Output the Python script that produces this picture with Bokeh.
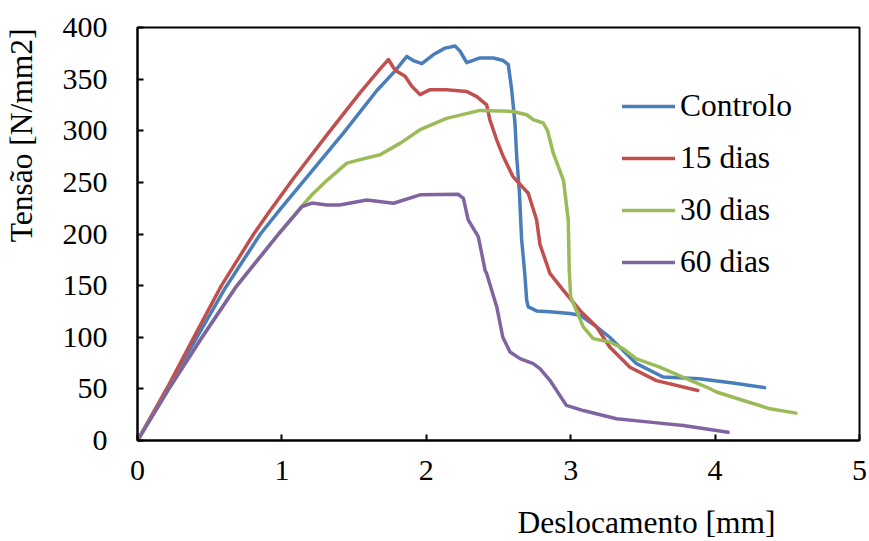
from bokeh.plotting import figure
from bokeh.models import Range1d, Legend, LegendItem, Title, FixedTicker
from bokeh.embed import file_html
from bokeh.resources import INLINE

# ---- data ----
controlo_x = [0, 0.217, 0.42, 0.609, 0.851, 0.989, 1.196, 1.427, 1.658, 1.784, 1.865, 1.91, 1.969, 2.05, 2.13,
              2.2, 2.234, 2.28, 2.372, 2.464, 2.533, 2.568, 2.591, 2.614, 2.626, 2.645, 2.66, 2.683, 2.695, 2.706,
              2.764, 2.856, 2.994, 3.064, 3.18, 3.27, 3.456, 3.64, 3.89, 4.124, 4.343]
controlo_y = [0, 52, 102, 148, 200, 224, 259, 298, 339, 358, 372, 368, 365, 373.8, 380,
              382, 377, 366, 370.5, 370.5, 368, 364, 340, 307.5, 275, 240, 195, 160, 136, 129.4,
              125.5, 124.6, 123, 121.4, 110, 100, 74.4, 61.5, 59.9, 55.6, 51.2]

d15_x = [0, 0.217, 0.413, 0.581, 0.805, 0.92, 1.081, 1.312, 1.542, 1.68, 1.738, 1.773, 1.796, 1.853, 1.90,
         1.957, 2.026, 2.14, 2.28, 2.35, 2.418, 2.44, 2.488, 2.533, 2.60, 2.706, 2.764, 2.787, 2.856, 2.948,
         3.064, 3.18, 3.27, 3.41, 3.594, 3.88]
d15_y = [0, 54, 106, 150, 200, 223, 254, 296, 337, 360, 369, 361, 357.6, 352.7, 343,
         335, 339.8, 339.8, 338, 333, 325, 310.7, 291, 275, 255.6, 239.5, 213.6, 190, 161.8, 145.6,
         126, 110, 90.6, 71, 58, 48.5]

d30_x = [0, 0.217, 0.447, 0.678, 0.977, 1.127, 1.208, 1.312, 1.45, 1.542, 1.68, 1.82, 1.957, 2.14, 2.372,
         2.60, 2.695, 2.74, 2.81, 2.84, 2.88, 2.95, 2.983, 2.99, 3.0, 3.087, 3.156, 3.27, 3.363, 3.456,
         3.617, 3.80, 3.94, 4.01, 4.19, 4.38, 4.56]
d30_y = [0, 50, 100, 148, 200, 225, 238, 252, 268.6, 272, 276.7, 288, 301, 312, 319.7,
         318.7, 315.5, 310.7, 307.5, 300, 278, 252, 213.6, 165, 139, 110, 98.7, 95.4, 89, 79,
         71, 60, 51.8, 47, 39, 30.7, 26.5]

d60_x = [0, 0.217, 0.447, 0.678, 0.977, 1.139, 1.208, 1.312, 1.40, 1.588, 1.773, 1.957, 2.22, 2.257, 2.29,
         2.36, 2.407, 2.418, 2.488, 2.53, 2.58, 2.649, 2.74, 2.787, 2.856, 2.97, 3.087, 3.317, 3.548, 3.78, 4.09]
d60_y = [0, 50, 100, 148, 200, 226.5, 230, 228, 228, 233, 229.8, 237.9, 238.5, 234.6, 213.6,
         197.4, 165, 161.8, 129.4, 100, 85.7, 79.3, 74.4, 69.6, 58.3, 34, 29, 21, 17.8, 14.6, 8]

series_names = ["Controlo", "15 dias", "30 dias", "60 dias"]
series_colors = ["#4A7EBB", "#C0504D", "#9BBB59", "#8064A2"]
x_ticks = [0, 1, 2, 3, 4, 5]
y_ticks = [0, 50, 100, 150, 200, 250, 300, 350, 400]
x_title = "Deslocamento [mm]"
y_title = "Tensão [N/mm2]"

TICK_FONT = "Times"
TITLE_FONT = "Liberation Serif"

p = figure(width=869, height=541, output_backend="svg", toolbar_location=None,
           x_range=Range1d(0, 5), y_range=Range1d(0, 400),
           min_border_left=137, min_border_right=10, min_border_top=27, min_border_bottom=101)

p.xgrid.visible = False
p.ygrid.visible = False
p.outline_line_color = "black"
p.outline_line_width = 2
p.background_fill_color = "white"
p.border_fill_color = "white"

for ax, ticks in ((p.xaxis[0], x_ticks), (p.yaxis[0], y_ticks)):
    ax.ticker = FixedTicker(ticks=ticks)
    ax.axis_line_color = "black"
    ax.axis_line_width = 2
    ax.major_tick_line_color = "black"
    ax.major_tick_line_width = 2
    ax.major_tick_in = 6
    ax.major_tick_out = 0
    ax.minor_tick_line_color = None
    ax.major_label_text_font = TICK_FONT
    ax.major_label_text_font_size = "30px"
    ax.major_label_text_color = "black"

p.yaxis.major_label_text_line_height = 1.0
p.yaxis.major_label_standoff = 30
p.xaxis.major_label_standoff = 20

series = [(controlo_x, controlo_y), (d15_x, d15_y), (d30_x, d30_y), (d60_x, d60_y)]
items = []
for (xs, ys), name, col in zip(series, series_names, series_colors):
    r = p.line(xs, ys, line_color=col, line_width=3.5, line_join="round", line_cap="round")
    items.append(LegendItem(label=name, renderers=[r]))

legend = Legend(items=items, location=(485, 158), padding=0, margin=0, spacing=12,
                glyph_width=53, glyph_height=40, label_height=40, label_standoff=5,
                label_text_font=TICK_FONT, label_text_font_size="31.5px", label_text_color="black",
                label_text_baseline="alphabetic",
                background_fill_alpha=0, border_line_alpha=0)
p.add_layout(legend, "center")

# spacers between tick labels and axis titles, then the titles
p.add_layout(Title(text=" ", text_font_size="1px", standoff=17), "below")
p.add_layout(Title(text=x_title, align="right", offset=84, text_font=TITLE_FONT, text_color="black",
                   text_font_size="31.5px", text_font_style="normal", standoff=0), "below")
p.add_layout(Title(text=" ", text_font_size="1px", standoff=18), "left")
p.add_layout(Title(text=y_title, align="right", offset=1, text_font=TITLE_FONT, text_color="black",
                   text_font_size="31.5px", text_font_style="normal", standoff=0), "left")

open("out.html", "w").write(file_html(p, INLINE))
